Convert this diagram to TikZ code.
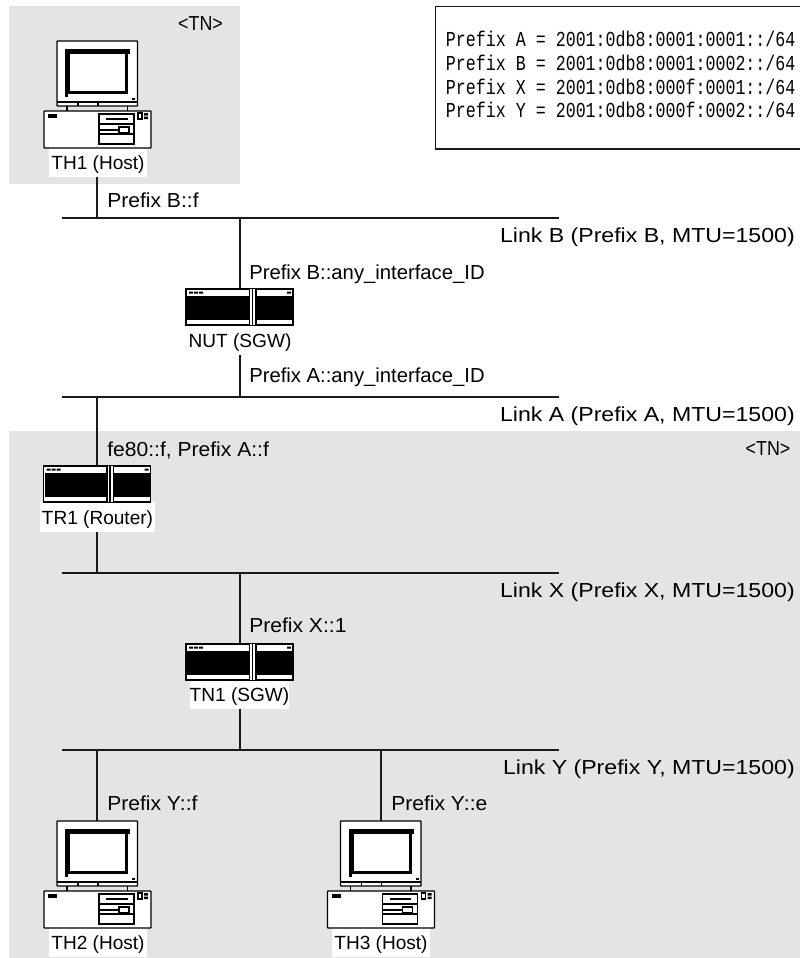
\documentclass[tikz,border=0pt]{standalone}
\usepackage{fontspec}
\setmainfont{Liberation Sans}
\newfontfamily\prefixfont[FakeStretch=0.78]{Liberation Mono}
\newfontfamily\linkfont[FakeStretch=1.14]{Liberation Sans}
\newfontfamily\addrfont[FakeStretch=1.04]{Liberation Sans}
\newfontfamily\tnfont[FakeStretch=0.88]{Liberation Sans}
\usepackage{xcolor}
\usetikzlibrary{positioning}
\definecolor{tnarea}{HTML}{E4E4E4}
\definecolor{wire}{HTML}{1A1A1A}
\tikzset{
  pics/hostpc/.style={code={
    % monitor
    \draw[line width=1pt,fill=white,rounded corners=.5pt] (-40.5,0) rectangle (40,65);
    \fill[black] (-32.5,8) rectangle (30.5,53);
    \fill[white] (-27.5,13) rectangle (27.5,50);
    \fill[white] (28,8.5) rectangle (33,13);
    \fill[black] (27.5,8) rectangle (32.5,13);
    \fill[black] (-32.5,53) rectangle (-29.5,56);
    \fill[black] (34.5,57) rectangle (37.5,59);
    \draw[line width=.8pt] (-40.5,61) -- (40,61) (-19.5,61) -- (-19.5,65) (.5,61) -- (.5,65);
    % feet
    \draw[line width=1.2pt] (-30.5,65) -- (-30.5,70) (30,65) -- (30,70);
    % case
    \draw[line width=1pt,fill=white,rounded corners=.5pt] (-53.5,70) rectangle (53.5,107);
    \fill[black] (-49.5,73) rectangle (-40.5,77);
    \draw[line width=.8pt] (1.5,73) rectangle (36.5,103) (1.5,83) -- (36.5,83) (1.5,93) -- (36.5,93);
    \fill[black] (8.5,76.5) rectangle (30,79);
    \draw[line width=.8pt,fill=white] (21.5,86) rectangle (31.5,92);
    \draw[line width=.8pt] (1.5,89) -- (21.5,89);
    \draw[line width=.8pt] (40.5,72) rectangle (44.5,78);
    \fill[black] (46.5,72) rectangle (50.5,74.5) (46.5,75.5) rectangle (50.5,78);
  }},
  pics/routerbox/.style={code={
    \draw[line width=1pt,fill=white] (-54,0) rectangle (53,36);
    \fill[black] (-53,6.5) rectangle (52,30.5);
    \fill[black] (-51,2.5) rectangle (-47,4.5) (-46,2.5) rectangle (-42,4.5) (-41,2.5) rectangle (-37,4.5) (47,2.5) rectangle (51,4.5);
    \fill[white] (9.5,0) rectangle (16,36);
    \draw[line width=.8pt] (9.5,0) -- (9.5,36) (12.5,0) -- (12.5,36) (16,0) -- (16,36);
  }}
}
\begin{document}
\begin{tikzpicture}[x=.75pt,y=-.75pt,
  lbl/.style={font=\fontsize{15.2}{18}\selectfont,inner sep=0pt},
  addr/.style={font=\addrfont\fontsize{15.2}{18}\selectfont,inner sep=0pt,anchor=base west},
  linkname/.style={font=\linkfont\fontsize{15.2}{18}\selectfont,inner sep=0pt,anchor=base east},
  devlbl/.style={font=\fontsize{14.3}{18}\selectfont,inner sep=0pt,fill=white,text height=14pt,text depth=3pt},
  linkline/.style={line width=.9pt,draw=wire},
  tnlbl/.style={inner sep=0pt,anchor=base,font=\tnfont\fontsize{15.2}{18}\selectfont}
]
\useasboundingbox (0,0) rectangle (800,958);
\fill[tnarea] (9,6) rectangle (240,184);
\fill[tnarea] (9,431) rectangle (800,958);

% link ends
\coordinate (linkBw) at (62,218);   \coordinate (linkBe) at (559,218);
\coordinate (linkAw) at (62,397);   \coordinate (linkAe) at (559,397);
\coordinate (linkXw) at (62,573);   \coordinate (linkXe) at (559,573);
\coordinate (linkYw) at (62,750);   \coordinate (linkYe) at (559,750);
\draw[linkline] (linkBw)--(linkBe);
\draw[linkline] (linkAw)--(linkAe);
\draw[linkline] (linkXw)--(linkXe);
\draw[linkline] (linkYw)--(linkYe);

% devices
\node[devlbl,minimum width=73.5pt,minimum height=21.75pt] (TH1) at (98,162.5) {TH1 (Host)};
\node[devlbl,minimum width=73.5pt,minimum height=21.75pt] (NUT) at (240,340) {NUT (SGW)};
\node[devlbl,minimum width=86.25pt,minimum height=22.5pt] (TR1) at (97.5,517) {TR1 (Router)};
\node[devlbl,minimum width=74.25pt,minimum height=21.75pt] (TN1) at (239.5,694.5) {TN1 (SGW)};
\node[devlbl,minimum width=73.5pt,minimum height=21.75pt] (TH2) at (98,942.5) {TH2 (Host)};
\node[devlbl,minimum width=73.5pt,minimum height=21.75pt] (TH3) at (381,942.5) {TH3 (Host)};
\coordinate (NUTtop) at (240,289);
\coordinate (TR1top) at (97,466);
\coordinate (TN1top) at (240,644);
\coordinate (TH2top) at (97,821);
\coordinate (TH3top) at (381,821);

\draw[linkline] (TH1.south-|TH2top)--(TH2top|-linkBw);
\draw[linkline] (NUTtop|-linkBw)--(NUTtop);
\draw[linkline] (NUT.south-|NUTtop)--(NUTtop|-linkAw);
\draw[linkline] (TR1top|-linkAw)--(TR1top);
\draw[linkline] (TR1.south-|TR1top)--(TR1top|-linkXw);
\draw[linkline] (TN1top|-linkXw)--(TN1top);
\draw[linkline] (TN1.south-|TN1top)--(TN1top|-linkYw);
\draw[linkline] (TH2top|-linkYw)--(TH2top);
\draw[linkline] (TH3top|-linkYw)--(TH3top);

\pic at (97.5,41) {hostpc};
\pic at (240,289) {routerbox};
\pic at (97.5,466) {routerbox};
\pic at (240,644) {routerbox};
\pic at (97.5,821) {hostpc};
\pic at (381,821) {hostpc};

% addresses
\node[addr] (addrB) at (107,207) {Prefix B::f};
\node[lbl,anchor=base west] (addrNUTb) at (249,279) {Prefix B::any\_interface\_ID};
\node[lbl,anchor=base west] (addrNUTa) at (249,382) {Prefix A::any\_interface\_ID};
\node[addr] (addrTR1) at (107,456) {fe80::f, Prefix A::f};
\node[addr] (addrTN1) at (249,632) {Prefix X::1};
\node[addr] (addrTH2) at (107,810) {Prefix Y::f};
\node[addr] (addrTH3) at (391,810) {Prefix Y::e};

% links
\node[linkname] (nameB) at (795,242) {Link B (Prefix B, MTU=1500)};
\node[linkname] (nameA) at (795,421) {Link A (Prefix A, MTU=1500)};
\node[linkname] (nameX) at (795,597) {Link X (Prefix X, MTU=1500)};
\node[linkname] (nameY) at (795,774) {Link Y (Prefix Y, MTU=1500)};

\node[tnlbl] (tnTop) at (200.5,30) {<TN>};
\node[tnlbl] (tnBot) at (768,455) {<TN>};

% prefix table
\node[draw=wire,line width=1.2pt,anchor=north west,minimum width=276pt,minimum height=107pt,
  align=left,inner sep=0pt,text width=276pt] (prefixes) at (434.5,5.5) {%
  \hspace*{8pt}\prefixfont\fontsize{16}{17.8}\selectfont\spaceskip=7.49pt
  \begin{tabular}{@{}l@{}}
  Prefix A = 2001:0db8:0001:0001::/64\\
  Prefix B = 2001:0db8:0001:0002::/64\\
  Prefix X = 2001:0db8:000f:0001::/64\\
  Prefix Y = 2001:0db8:000f:0002::/64
  \end{tabular}};
\end{tikzpicture}
\end{document}
